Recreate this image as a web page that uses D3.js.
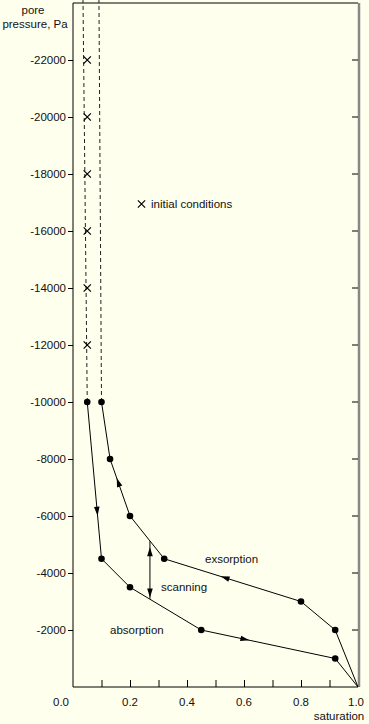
<!DOCTYPE html>
<html>
<head>
<meta charset="utf-8">
<script src="https://cdn.jsdelivr.net/npm/d3@7"></script>
<style>
  body { margin: 0; background: #ffffee; }
  text { font-family: "Liberation Sans", Arial, Helvetica, sans-serif; font-size: 11.5px; fill: #111; }
</style>
</head>
<body>
<script>
// absorption branch (wetting), from the dry end to saturation
var absorptionS = [0.05, 0.1, 0.2, 0.45, 0.92, 1.0];
var absorptionP = [-10000, -4500, -3500, -2000, -1000, 0];
// exsorption branch (drying)
var exsorptionS = [1.0, 0.92, 0.8, 0.32, 0.2, 0.13, 0.1];
var exsorptionP = [0, -2000, -3000, -4500, -6000, -8000, -10000];
// initial conditions (crosses)
var initialS = [0.05, 0.05, 0.05, 0.05, 0.05, 0.05];
var initialP = [-22000, -20000, -18000, -16000, -14000, -12000];
// dashed lines going up off the top of the chart
var dashLeftS = [0.05, 0.035];
var dashRightS = [0.1, 0.091];
var dashP = [-10000, -24200];
// scanning line
var scanS = 0.27;
var scanP = [-5120, -3090];
var scanTips = [-4650, -3400];
// ticks
var yTicks = [-22000, -20000, -18000, -16000, -14000, -12000, -10000, -8000, -6000, -4000, -2000];
var xTicks = [0, 0.1, 0.2, 0.3, 0.4, 0.5, 0.6, 0.7, 0.8, 0.9, 1.0];
var xLabels = [0, 0.2, 0.4, 0.6, 0.8, 1.0];

var width = 369, height = 724;
// note: "top" is taken by window.top, so margins get their own names
var mLeft = 73, mRight = 358, mTop = 3, mBottom = 687;

var x = d3.scaleLinear().domain([0, 1]).range([mLeft, mRight]);
var y = d3.scaleLinear().domain([0, -24000]).range([mBottom, mTop]);

var svg = d3.select('body').append('svg')
    .attr('width', width)
    .attr('height', height);

svg.append('rect').attr('width', width).attr('height', height).attr('fill', '#ffffee');

// frame
svg.append('line').attr('x1', mLeft).attr('x2', mLeft).attr('y1', mTop).attr('y2', mBottom)
    .attr('stroke', '#000');
svg.append('line').attr('x1', mLeft).attr('x2', mRight).attr('y1', mBottom).attr('y2', mBottom)
    .attr('stroke', '#000');
svg.append('line').attr('x1', mLeft).attr('x2', mRight).attr('y1', mTop).attr('y2', mTop)
    .attr('stroke', '#000');
svg.append('line').attr('x1', mRight + 1).attr('x2', mRight + 1).attr('y1', mTop).attr('y2', mBottom)
    .attr('stroke', '#888').attr('stroke-width', 2.5);

// y axis, ticks outside on the left; plain hyphen minus, no thousands separator
var yAxis = d3.axisLeft(y).tickValues(yTicks).tickSize(5).tickPadding(2)
    .tickFormat(function(d) { return String(d); });
var gy = svg.append('g').attr('transform', 'translate(' + mLeft + ',0)').call(yAxis);
gy.select('.domain').remove();
gy.selectAll('text').style('font-size', '11.5px').attr('fill', '#111')
    .style('font-family', '"Liberation Sans", Arial, sans-serif');

// right side ticks, inward
svg.append('g').selectAll('line').data(yTicks).enter().append('line')
    .attr('x1', mRight - 6).attr('x2', mRight)
    .attr('y1', function(d) { return y(d); }).attr('y2', function(d) { return y(d); })
    .attr('stroke', '#000');

// x axis, ticks inward
var xAxis = d3.axisTop(x).tickValues(xTicks).tickSize(7).tickFormat('');
var gx = svg.append('g').attr('transform', 'translate(0,' + mBottom + ')').call(xAxis);
gx.select('.domain').remove();
gx.selectAll('.tick').filter(function(d) { return d === 0 || d === 1; }).remove();

svg.append('g').selectAll('text').data(xLabels).enter().append('text')
    .attr('x', function(d) { return d === 0 ? x(d) - 12 : d === 1 ? x(d) - 2 : x(d); })
    .attr('y', 706)
    .attr('text-anchor', 'middle')
    .text(function(d) { return d3.format('.1f')(d); });

// axis titles
svg.append('text').attr('x', 33).attr('y', 14).attr('text-anchor', 'middle').text('pore');
svg.append('text').attr('x', 35).attr('y', 28).attr('text-anchor', 'middle').text('pressure, Pa');
svg.append('text').attr('x', 339).attr('y', 720).attr('text-anchor', 'middle').text('saturation');

// dashed lines
var line = d3.line().x(function(d) { return x(d[0]); }).y(function(d) { return y(d[1]); });
[dashLeftS, dashRightS].forEach(function(ss) {
    svg.append('path')
        .attr('d', line(ss.map(function(s, i) { return [s, dashP[i]]; })))
        .attr('fill', 'none').attr('stroke', '#222').attr('stroke-dasharray', '4,3');
});

// curves
var absorption = absorptionS.map(function(s, i) { return [s, absorptionP[i]]; });
var exsorption = exsorptionS.map(function(s, i) { return [s, exsorptionP[i]]; });
[absorption, exsorption].forEach(function(pts) {
    svg.append('path').attr('d', line(pts))
        .attr('fill', 'none').attr('stroke', '#000').attr('stroke-width', 1);
});

// dots (not on the saturated end point)
var dots = absorption.concat(exsorption).filter(function(d) { return d[0] < 1; });
svg.append('g').selectAll('circle').data(dots).enter().append('circle')
    .attr('cx', function(d) { return x(d[0]); })
    .attr('cy', function(d) { return y(d[1]); })
    .attr('r', 3.3).attr('fill', '#000');

// arrowhead placed at a fraction along a segment, pointing from (x0,y0) to (x1,y1)
function arrowHead(x0, y0, x1, y1, frac) {
    var tx = x0 + (x1 - x0) * frac, ty = y0 + (y1 - y0) * frac;
    var ang = Math.atan2(y1 - y0, x1 - x0) * 180 / Math.PI;
    svg.append('path')
        .attr('d', 'M4,0 L-5,-2.8 L-5,2.8 Z')
        .attr('transform', 'translate(' + tx + ',' + ty + ') rotate(' + ang + ')')
        .attr('fill', '#000');
}
var arrows = [[absorption, 0, 0.7], [absorption, 3, 0.33], [exsorption, 2, 0.56], [exsorption, 4, 0.6]];
arrows.forEach(function(a) {
    var p0 = a[0][a[1]], p1 = a[0][a[1] + 1];
    arrowHead(x(p0[0]), y(p0[1]), x(p1[0]), y(p1[1]), a[2]);
});

// scanning line with arrows pointing outwards
svg.append('line')
    .attr('x1', x(scanS)).attr('x2', x(scanS))
    .attr('y1', y(scanP[0])).attr('y2', y(scanP[1]))
    .attr('stroke', '#000');
arrowHead(x(scanS), y(scanTips[0]) + 10, x(scanS), y(scanTips[0]) - 4, 0.95);
arrowHead(x(scanS), y(scanTips[1]) - 10, x(scanS), y(scanTips[1]) + 4, 0.95);

// initial conditions crosses
var cross = d3.symbol().type(d3.symbolX).size(36);
svg.append('g').selectAll('path').data(initialS).enter().append('path')
    .attr('d', cross)
    .attr('transform', function(d, i) { return 'translate(' + x(d) + ',' + y(initialP[i]) + ')'; })
    .attr('fill', 'none').attr('stroke', '#000').attr('stroke-width', 1.2);

// legend
svg.append('path').attr('d', cross)
    .attr('transform', 'translate(141.5,204)')
    .attr('fill', 'none').attr('stroke', '#000').attr('stroke-width', 1.2);
svg.append('text').attr('x', 151).attr('y', 208).text('initial conditions');

// curve labels
svg.append('text').attr('x', 205).attr('y', 563).text('exsorption');
svg.append('text').attr('x', 161).attr('y', 591).text('scanning');
svg.append('text').attr('x', 110).attr('y', 634).text('absorption');
</script>
</body>
</html>
